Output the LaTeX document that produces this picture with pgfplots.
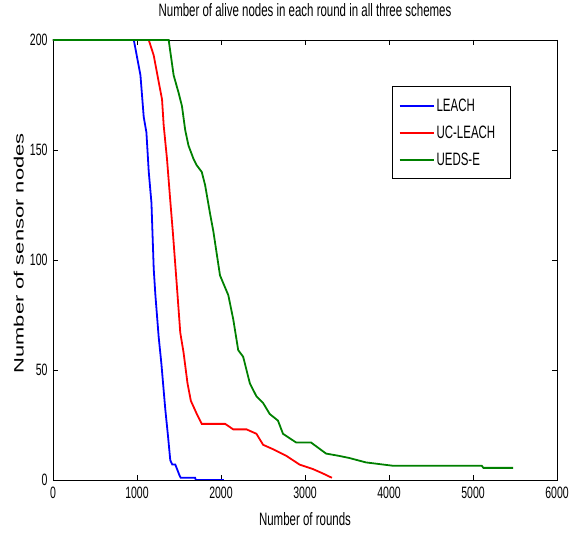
\documentclass[border=0pt]{standalone}
\usepackage{pgfplots}
\pgfplotsset{compat=1.18}
\usepackage{fontspec}
\setmainfont[FakeStretch=0.64]{Liberation Sans}
\newfontfamily\ylabfont{Liberation Sans}
\definecolor{mblue}{RGB}{0,0,255}
\definecolor{mred}{RGB}{255,0,0}
\definecolor{mgreen}{RGB}{0,128,0}
\begin{document}
\begin{tikzpicture}
\begin{axis}[
  scale only axis, width=504bp, height=440bp,
  xmin=0, xmax=6000, ymin=0, ymax=200,
  xtick={0,1000,...,6000}, ytick={0,50,...,200},
  scaled x ticks=false,
  /pgf/number format/assume math mode=true,
  /pgf/number format/1000 sep={},
  font=\fontsize{18}{21}\selectfont,
  ticklabel style={font=\fontsize{16.5}{19}\selectfont},
  tick align=inside, major tick length=5bp,
  tick style={black, line width=0.5pt},
  axis line style={line width=0.8pt},
  xticklabel style={yshift=-4bp},
  yticklabel style={xshift=-2bp},
  title={Number of alive nodes in each round in all three schemes},
  title style={at={(axis description cs:0.5,1)}, anchor=south, yshift=14bp},
  xlabel={Number of rounds},
  xlabel style={at={(axis description cs:0.5,0)}, anchor=north, yshift=-29bp},
  ylabel={\ylabfont\fontsize{22}{24}\selectfont\scalebox{1}[0.62]{Number of sensor nodes}},
  ylabel style={at={(axis description cs:-0.068,0.515)}, anchor=center},
  legend cell align=left,
  legend style={at={(axis description cs:0.673,0.895)}, anchor=north west,
    inner xsep=6bp, inner ysep=10bp,
    row sep=9bp, font=\fontsize{18}{21}\selectfont},
  every axis legend/.append style={draw=black, very thick},
  legend image code/.code={\draw[mark repeat=2, mark phase=2, #1]
    plot coordinates {(0bp,0bp) (17bp,0bp) (34bp,0bp)};},
]
% LEACH
\addplot[color=mblue, line width=1.8pt] coordinates {
(0,200) (962,200) (1041,184) (1080,165) (1112,158) (1140,140) (1172,126)
(1199,96) (1219,84) (1258,65) (1290,53) (1337,32) (1369,20) (1396,9)
(1420,7) (1456,7) (1507,2) (1520,1) (1692,1) (1700,0) (2035,0)};
\addlegendentry{LEACH}
% UC-LEACH
\addplot[color=mred, line width=1.8pt] coordinates {
(0,200) (1140,200) (1199,193) (1258,181) (1298,173) (1318,161) (1357,146)
(1396,127) (1428,112) (1475,88) (1515,67) (1554,58) (1601,44) (1641,36)
(1712,30) (1771,25.5) (2050,25.5) (2146,23) (2304,23) (2422,21) (2501,16)
(2619,14) (2777,11) (2935,7) (3092,5) (3211,3) (3320,1)};
\addlegendentry{UC-LEACH\hspace*{7bp}}
% UEDS-E
\addplot[color=mgreen, line width=1.8pt] coordinates {
(0,200) (1377,200) (1436,184) (1495,176) (1535,170) (1574,159) (1613,152)
(1672,146) (1712,143) (1771,140) (1811,134) (1870,121) (1909,113) (1988,93)
(2087,84) (2146,73) (2205,59) (2264,56) (2343,44) (2422,38) (2501,35)
(2580,30) (2678,27) (2738,21) (2896,17) (3073,17) (3251,12) (3400,11)
(3527,10) (3724,8) (4039,6.5) (5104,6.5) (5124,5.5) (5479,5.5)};
\addlegendentry{UEDS-E}
\end{axis}
\path (current axis.south west) ++(-53bp,-55bp) coordinate (bbA);
\path (current axis.north east) ++(20bp,37bp) coordinate (bbB);
\path (bbA) rectangle (bbB);
\end{tikzpicture}
\end{document}
